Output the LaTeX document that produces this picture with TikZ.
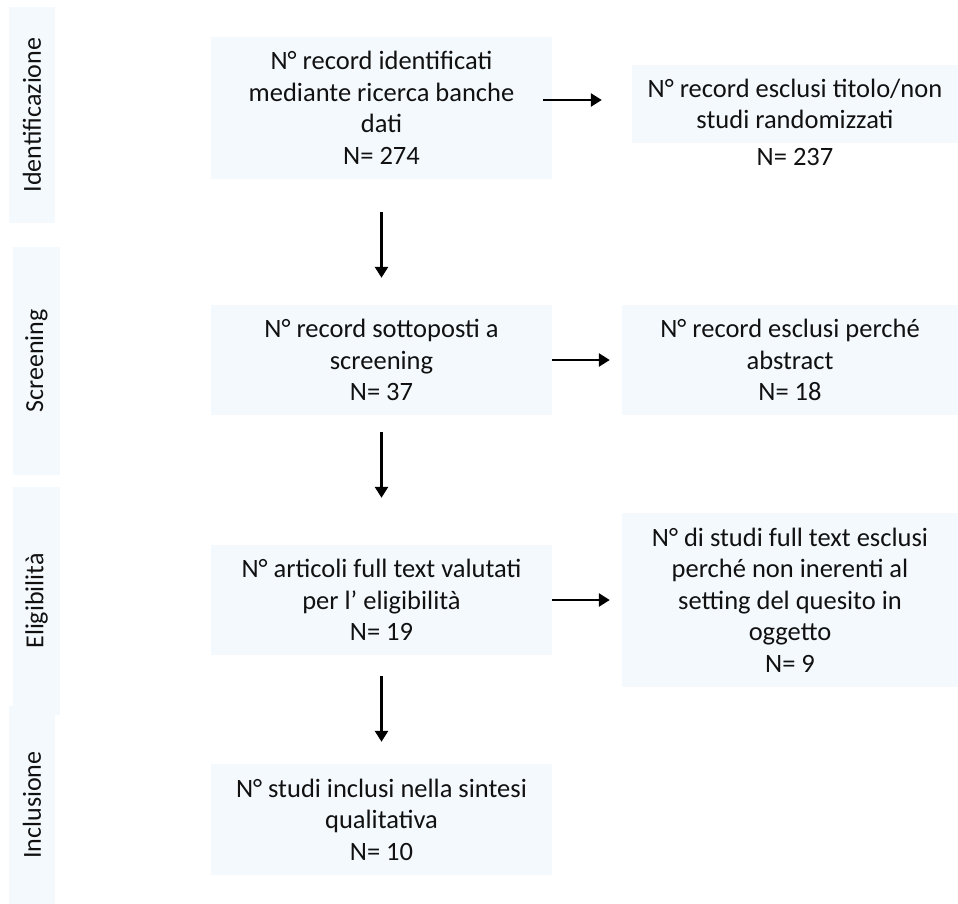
\documentclass[tikz,border=0pt]{standalone}
\usepackage{fontspec}
\setmainfont{Carlito}
\usetikzlibrary{arrows.meta}
\definecolor{prBox}{HTML}{F4F9FE}
\definecolor{prText}{HTML}{111111}
\tikzset{
  phase/.style={fill=prBox,inner sep=0pt,text=prText,
    font=\fontsize{26}{30}\selectfont},
  stage/.style={fill=prBox,inner sep=0pt,text=prText,align=center,
    minimum width=341pt,minimum height=110pt,
    font=\fontsize{26.5}{31.5}\selectfont},
  excl/.style={fill=prBox,inner sep=0pt,text=prText,align=center,
    minimum width=336pt,minimum height=110pt,
    font=\fontsize{26.5}{31.5}\selectfont},
  note/.style={inner sep=0pt,text=prText,font=\fontsize{26.5}{31.5}\selectfont},
  arrow/.style={-{Triangle[length=11pt,width=13pt]},line width=2.6pt,draw=black}
}
\begin{document}
\begin{tikzpicture}[x=1pt,y=-1pt]
  \useasboundingbox (0,0) rectangle (958,904);

  % fasi
  \node[phase,rotate=90,minimum width=216pt,minimum height=46pt] (idf) at (32,115) {Identificazione};
  \node[phase,rotate=90,minimum width=228pt,minimum height=47pt] (scr) at (36.5,361) {Screening};
  \node[phase,rotate=90,minimum width=228pt,minimum height=47pt] (elg) at (36.5,601) {Eligibilità};
  \node[phase,rotate=90,minimum width=198pt,minimum height=46pt] (inc) at (32,805) {Inclusione};

  % colonna principale
  \node[stage,minimum height=142pt] (rec) at (381.5,108)
    {N° record identificati\\mediante ricerca banche\\dati\\N= 274};
  \node[stage] (scrn) at (381.5,360)
    {N° record sottoposti a\\screening\\N= 37};
  \node[stage] (full) at (381.5,600)
    {N° articoli full text valutati\\per l’ eligibilità\\N= 19};
  \node[stage,minimum height=111pt] (incl) at (381.5,819.5)
    {N° studi inclusi nella sintesi\\qualitativa\\N= 10};

  % esclusi
  \node[excl,minimum width=326pt,minimum height=78pt] (exTit) at (795,104)
    {N° record esclusi titolo/non\\studi randomizzati};
  \node[note] (exTitN) at (795,157) {N= 237};
  \node[excl] (exAbs) at (790,360)
    {N° record esclusi perché\\abstract\\N= 18};
  \node[excl,minimum height=174pt] (exFull) at (790,600)
    {N° di studi full text esclusi\\perché non inerenti al\\setting del quesito in\\oggetto\\N= 9};

  % frecce
  \draw[arrow,shorten <=-9pt,shorten >=30pt] ([yshift=8pt]rec.east) -- ([yshift=8pt]rec.east -| exTit.west);
  \draw[arrow,shorten >=12pt] (scrn.east) -- (exAbs.west);
  \draw[arrow,shorten >=12pt] (full.east) -- (exFull.west);

  \draw[arrow,shorten <=33pt,shorten >=27pt] (rec.south) -- (scrn.north);
  \draw[arrow,shorten <=17pt,shorten >=47pt] (scrn.south) -- (full.north);
  \draw[arrow,shorten <=21pt,shorten >=22pt] (full.south) -- (incl.north);
\end{tikzpicture}
\end{document}
